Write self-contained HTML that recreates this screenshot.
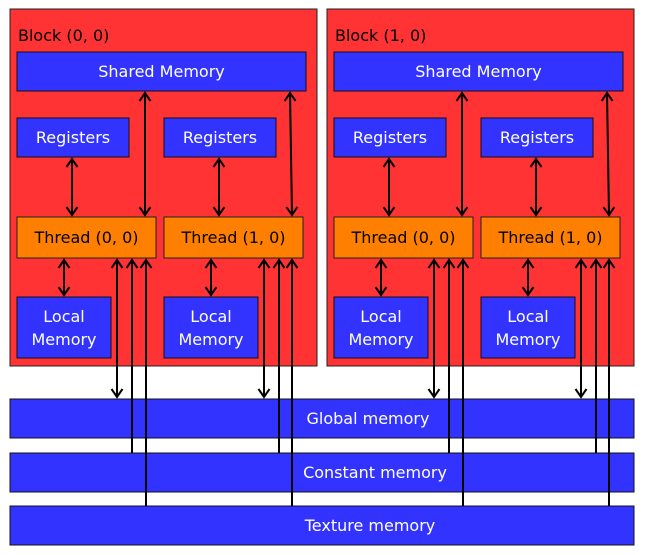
<!DOCTYPE html>
<html><head><meta charset="utf-8"><style>
html,body{margin:0;padding:0;background:#fff}
svg{display:block}
text{font-family:"DejaVu Sans","Liberation Sans",sans-serif;font-size:16px}
.w{fill:#fff}
.b{fill:#000}
</style></head><body>
<svg width="645" height="555" viewBox="0 0 645 555" xmlns="http://www.w3.org/2000/svg">
<defs>
<marker id="h" markerWidth="14" markerHeight="14" refX="11" refY="7" orient="auto-start-reverse" markerUnits="userSpaceOnUse">
<polyline points="3,1.5 11,7 3,12.5" fill="none" stroke="#000" stroke-width="2"/>
</marker>
<g id="blk">
<rect x="10" y="9" width="307" height="357" fill="#ff3333" stroke="#222" stroke-width="1"/>
<rect x="17" y="52" width="289" height="39" fill="#3333ff" stroke="#111"/>
<text x="161.5" y="77" class="w" text-anchor="middle">Shared Memory</text>
<rect x="17" y="118" width="112" height="39" fill="#3333ff" stroke="#111"/>
<text x="73" y="143" class="w" text-anchor="middle">Registers</text>
<rect x="164" y="118" width="112" height="39" fill="#3333ff" stroke="#111"/>
<text x="220" y="143" class="w" text-anchor="middle">Registers</text>
<rect x="17" y="217" width="139" height="41" fill="#ff8000" stroke="#222"/>
<text x="86.5" y="243" class="b" text-anchor="middle">Thread (0, 0)</text>
<rect x="164" y="217" width="139" height="41" fill="#ff8000" stroke="#222"/>
<text x="233.5" y="243" class="b" text-anchor="middle">Thread (1, 0)</text>
<rect x="17" y="297" width="94" height="61" fill="#3333ff" stroke="#111"/>
<text x="64" y="322" class="w" text-anchor="middle">Local</text>
<text x="64" y="345" class="w" text-anchor="middle">Memory</text>
<rect x="164" y="297" width="94" height="61" fill="#3333ff" stroke="#111"/>
<text x="211" y="322" class="w" text-anchor="middle">Local</text>
<text x="211" y="345" class="w" text-anchor="middle">Memory</text>
<g stroke="#000" stroke-width="2" fill="none">
<line x1="145" y1="93" x2="145" y2="215" marker-start="url(#h)" marker-end="url(#h)"/>
<line x1="290" y1="93" x2="292" y2="215" marker-start="url(#h)" marker-end="url(#h)"/>
<line x1="72" y1="159" x2="72" y2="215" marker-start="url(#h)" marker-end="url(#h)"/>
<line x1="219" y1="159" x2="219" y2="215" marker-start="url(#h)" marker-end="url(#h)"/>
<line x1="64" y1="260" x2="64" y2="295" marker-start="url(#h)" marker-end="url(#h)"/>
<line x1="211" y1="260" x2="211" y2="295" marker-start="url(#h)" marker-end="url(#h)"/>
</g>
</g>
<g id="lines" stroke="#000" stroke-width="2" fill="none">
<line x1="117" y1="260" x2="117" y2="397" marker-start="url(#h)" marker-end="url(#h)"/>
<line x1="132" y1="260" x2="132" y2="453" marker-start="url(#h)"/>
<line x1="146" y1="260" x2="146" y2="506" marker-start="url(#h)"/>
<line x1="264" y1="260" x2="264" y2="397" marker-start="url(#h)" marker-end="url(#h)"/>
<line x1="279" y1="260" x2="279" y2="453" marker-start="url(#h)"/>
<line x1="292" y1="260" x2="292" y2="506" marker-start="url(#h)"/>
</g>
</defs>
<use href="#blk"/>
<g transform="translate(317,0)"><use href="#blk"/></g>
<text x="18" y="41" class="b">Block (0, 0)</text>
<text x="335" y="41" class="b">Block (1, 0)</text>
<rect x="10" y="399" width="624" height="39" fill="#3333ff" stroke="#111"/>
<text x="368" y="424" class="w" text-anchor="middle">Global memory</text>
<rect x="10" y="453" width="624" height="39" fill="#3333ff" stroke="#111"/>
<text x="375" y="478" class="w" text-anchor="middle">Constant memory</text>
<rect x="10" y="506" width="624" height="39" fill="#3333ff" stroke="#111"/>
<text x="370" y="531" class="w" text-anchor="middle">Texture memory</text>
<use href="#lines"/>
<g transform="translate(317,0)"><use href="#lines"/></g>
</svg>
</body></html>
